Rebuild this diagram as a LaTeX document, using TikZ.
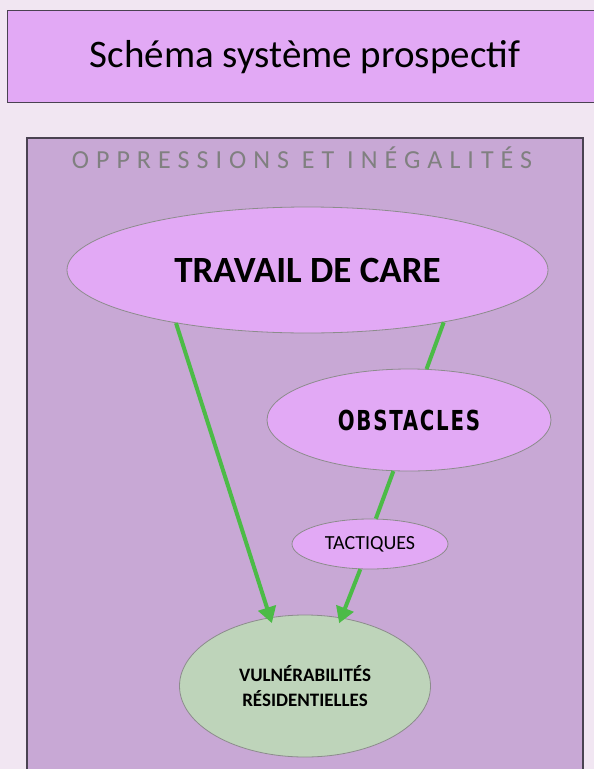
\documentclass[tikz,border=0pt]{standalone}
\usepackage{fontspec}
\setmainfont{Carlito}
\newfontfamily\spacedfont[LetterSpace=27]{Carlito}
\newfontfamily\heavyfont[LetterSpace=8,UprightFont={* Bold}]{DejaVu Sans Condensed}
\usepackage{tikz}
\usetikzlibrary{arrows.meta, shapes.geometric}
\usepackage{xcolor}
\definecolor{pagebg}{HTML}{F1E6F2}
\definecolor{lilac}{HTML}{E2A9F5}
\definecolor{mauve}{HTML}{C8A8D5}
\definecolor{sage}{HTML}{BED4BA}
\definecolor{leaf}{HTML}{4CBB47}
\definecolor{frame}{HTML}{4A4252}

\begin{document}
\begin{tikzpicture}[x=1pt, y=-1pt,
                    bubble/.style={ellipse,draw=black!45,line width=0.8pt,fill=lilac,inner sep=0pt},
                    link/.style={draw=leaf,line width=4pt},
                    head/.style={-{Triangle[width=18pt,length=16pt]},shorten >=-6pt}]

  \useasboundingbox[fill=pagebg] (0,0) rectangle (594,769);

  % title banner and background frame
  \node[draw=frame,line width=1pt,fill=lilac,minimum width=600pt,minimum height=92pt,
        anchor=north west,inner sep=0pt] (title) at (7,10) {};
  \node[font=\fontsize{39}{44}\selectfont] at (305,57) {Schéma système prospectif};
  \node[draw=frame,line width=1.5pt,fill=mauve,minimum width=556pt,minimum height=650pt,
        anchor=north west,inner sep=0pt] (frame) at (26,137) {};
  \node[font=\spacedfont\fontsize{26}{30}\selectfont,text=black!50] (oppr) at (302,158)
    {OPPRESSIONS ET INÉGALITÉS};

  \node[bubble,minimum width=481pt,minimum height=126pt] (care) at (307.5,270)
    {\fontsize{37}{40}\selectfont\bfseries TRAVAIL DE CARE};
  \node[bubble,minimum width=284pt,minimum height=102pt] (obst) at (409,420)
    {\scalebox{1}[1.25]{\heavyfont\fontsize{22}{24}\selectfont OBSTACLES}};
  \node[bubble,minimum width=156pt,minimum height=50pt] (tact) at (370,544)
    {\fontsize{20}{22}\selectfont TACTIQUES};
  \node[bubble,fill=sage,minimum width=251pt,minimum height=142pt,align=center,
        font=\fontsize{19}{25}\selectfont\bfseries] (vuln) at (305,686)
    {VULNÉRABILITÉS\\RÉSIDENTIELLES};

  % connectors
  \draw[link] (care.-21.4) -- (obst.71);
  \draw[link] (obst.-107) -- (tact.77);
  \draw[link,head] (care.-158.3) -- (vuln.117.6);
  \draw[link,head] (tact.-111) -- (vuln.62.4);
\end{tikzpicture}
\end{document}
